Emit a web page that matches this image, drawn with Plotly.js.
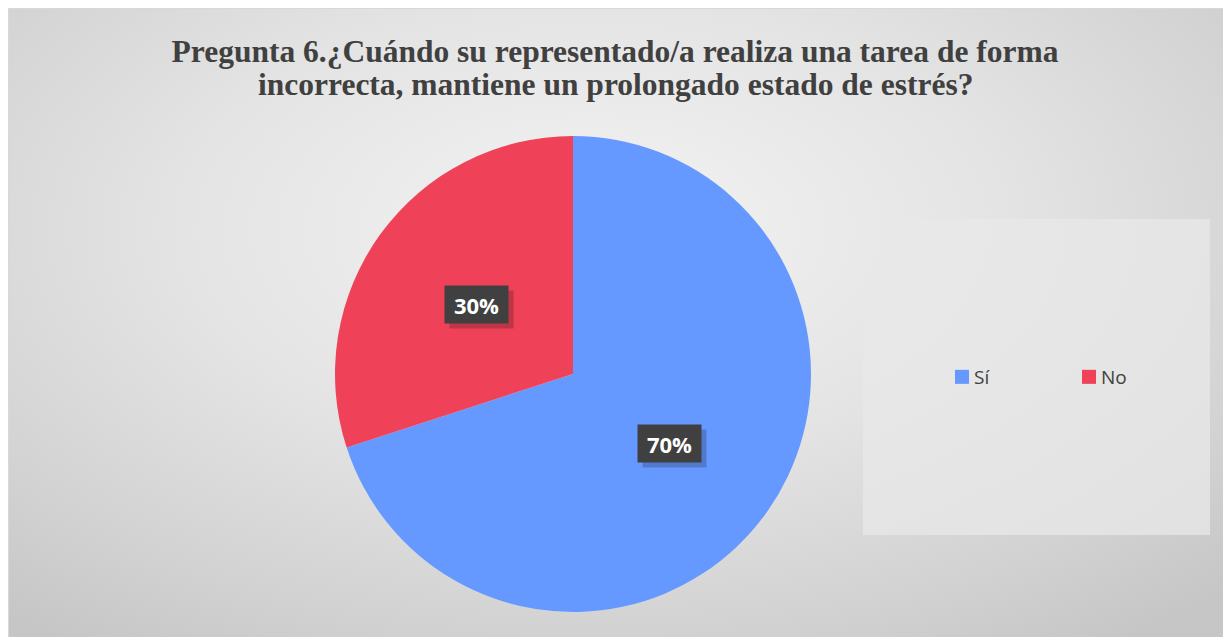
<!DOCTYPE html>
<html>
<head>
<meta charset="utf-8">
<script src="https://cdn.plot.ly/plotly-3.0.1.min.js"></script>
<style>
  html, body { margin:0; padding:0; background:#ffffff; }
  #bg { position:absolute; left:8px; top:8px; width:1215px; height:629px;
        background: radial-gradient(ellipse 75% 80% at 48% 35%, #f3f3f3 0%, #e4e4e4 45%, #d2d2d2 80%, #c6c6c6 100%);
        border-top:1px solid #d8d8d8; border-left:1px solid #d8d8d8; }
  #chart { position:absolute; left:0; top:0; width:1223px; height:637px; }
</style>
</head>
<body>
<div id="bg"></div>
<div id="chart"></div>
<script>
const titleLines = ["Pregunta 6.¿Cuándo su representado/a realiza una tarea de forma", "incorrecta, mantiene un prolongado estado de estrés?"];
const categories = ["Sí", "No"];
const values = [70, 30];
const colors = ["#6699ff", "#ef4259"];

const W = 1223, H = 637;
const cx = 573, cy = 374, r = 238;
const dom = {x:[(cx - r)/W, (cx + r)/W], y:[1 - (cy + r)/H, 1 - (cy - r)/H]};
const titleFont = {family:'Liberation Serif, Times New Roman, serif', size:31.5, color:'#404040', weight:'bold'};

// label positions computed from data (mid-angle of each slice, clockwise from top)
const total = values.reduce((a,b)=>a+b,0);
const annotations = [];
let acc = 0;
values.forEach((v,i)=>{
  const mid = (acc + v/2) / total * 2 * Math.PI;
  acc += v;
  const px = cx + 0.5 * r * Math.sin(mid);
  const py = cy - 0.5 * r * Math.cos(mid);
  const txt = Math.round(v / total * 100) + "%";
  // shadow
  annotations.push({x:(px+5)/W, y:1-(py+5)/H, xref:'paper', yref:'paper', xanchor:'center', yanchor:'middle',
    showarrow:false, text:' ', width:57, height:31, borderpad:3,
    font:{family:'Open Sans, sans-serif', size:22, color:'rgba(0,0,0,0)'},
    bgcolor:'rgba(0,0,0,0.2)'});
  annotations.push({x:px/W, y:1-py/H, xref:'paper', yref:'paper', xanchor:'center', yanchor:'middle',
    showarrow:false, text:'<b>'+txt+'</b>', width:57, height:31, borderpad:3,
    font:{family:'Open Sans, sans-serif', size:22, color:'#ffffff'},
    bgcolor:'#404040'});
});
// second title line
annotations.push({xref:'container', yref:'container', x:615/W, y:1-85/H, xanchor:'center', yanchor:'middle',
  showarrow:false, text:titleLines[1], font:titleFont});

const data = [{
  type:'pie', labels:categories, values:values, sort:false, direction:'clockwise', rotation:0,
  marker:{colors:colors, line:{width:0}}, textinfo:'none', hoverinfo:'label+percent',
  domain:dom
}];

const layout = {
  width:W, height:H, margin:{l:0,r:0,t:0,b:0,autoexpand:false},
  paper_bgcolor:'rgba(0,0,0,0)', plot_bgcolor:'rgba(0,0,0,0)',
  title:{text:titleLines[0], x:615/W, xanchor:'center', y:1-51/H, yanchor:'middle', font:titleFont},
  showlegend:true,
  legend:{orientation:'h', x:934/W, xanchor:'left', y:1-377/H, yanchor:'middle',
    entrywidth:82, entrywidthmode:'pixels', bgcolor:'rgba(0,0,0,0)',
    font:{family:'Open Sans, sans-serif', size:19, color:'#404040'}},
  shapes:[{type:'rect', xref:'paper', yref:'paper', x0:863/W, x1:1210/W, y0:1-535/H, y1:1-219/H,
    fillcolor:'rgba(232,232,232,0.75)', line:{width:0}, layer:'below'}],
  annotations:annotations
};

const gd = document.getElementById('chart');
function styleLegend(){
  gd.querySelectorAll('.legendpoints path').forEach(p => {
    p.setAttribute('transform', 'translate(28,0) scale(1.17)');
  });
}
Plotly.newPlot(gd, data, layout, {displayModeBar:false}).then(()=>{
  styleLegend();
  gd.on('plotly_afterplot', styleLegend);
});
</script>
</body>
</html>
